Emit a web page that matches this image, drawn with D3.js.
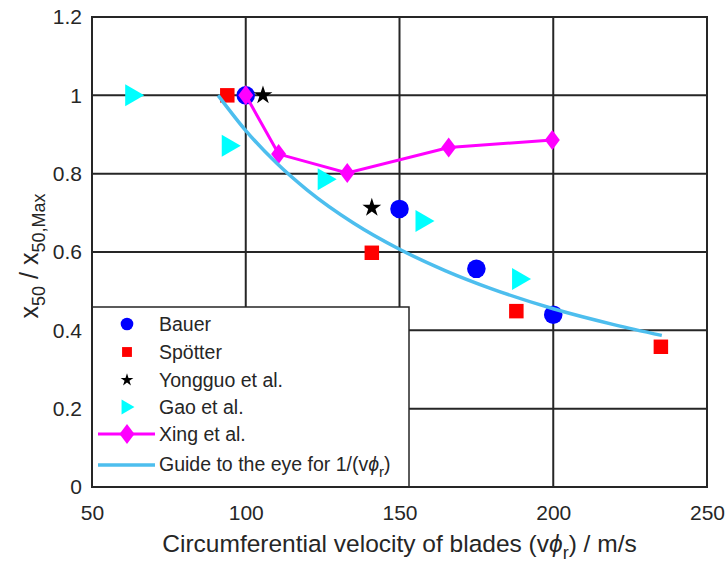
<!DOCTYPE html>
<html>
<head>
<meta charset="utf-8">
<script src="https://cdn.jsdelivr.net/npm/d3@7"></script>
<style>
  body { margin: 0; background: #fff; }
  svg text { font-family: "Liberation Sans", Arial, sans-serif; fill: #262626; }
</style>
</head>
<body>
<div id="chart"></div>
<script>
// data
var bauerX = [100, 150, 175, 200];
var bauerY = [1.0, 0.71, 0.557, 0.44];

var spotterX = [94, 141, 188, 235];
var spotterY = [1.0, 0.598, 0.449, 0.358];

var yongguoX = [105.6, 141];
var yongguoY = [1.0, 0.713];

var gaoX = [63.4, 94.8, 126, 157.8, 189.2];
var gaoY = [1.0, 0.871, 0.786, 0.679, 0.531];

var xingX = [100, 110.7, 133, 166, 199.7];
var xingY = [1.0, 0.85, 0.802, 0.867, 0.886];

var guideX = [91, 100, 110, 120, 135, 150, 165, 180, 200, 220, 235.3];
var guideY = [1.0, 0.91, 0.827, 0.758, 0.674, 0.607, 0.552, 0.506, 0.455, 0.414, 0.387];

var xTicks = [50, 100, 150, 200, 250];
var yTicks = [0, 0.2, 0.4, 0.6, 0.8, 1, 1.2];

var legendNames = ['Bauer', 'Spötter', 'Yongguo et al.', 'Gao et al.', 'Xing et al.'];

function zip(xs, ys) {
    return xs.map(function(x, i) { return {x: x, y: ys[i]}; });
}

var width = 725, height = 562;
var margin = {left: 92, right: 18, top: 17, bottom: 75};

var x = d3.scaleLinear().domain([50, 250]).range([margin.left, width - margin.right]);
var y = d3.scaleLinear().domain([0, 1.2]).range([height - margin.bottom, margin.top]);

var svg = d3.select('#chart').append('svg')
    .attr('width', width)
    .attr('height', height);

var axisColor = '#262626';

// grid
svg.append('g').selectAll('line')
    .data(xTicks).enter().append('line')
    .attr('x1', function(d) { return x(d); })
    .attr('x2', function(d) { return x(d); })
    .attr('y1', y(0)).attr('y2', y(1.2))
    .attr('stroke', axisColor).attr('stroke-width', 2);

svg.append('g').selectAll('line')
    .data(yTicks).enter().append('line')
    .attr('y1', function(d) { return y(d); })
    .attr('y2', function(d) { return y(d); })
    .attr('x1', x(50)).attr('x2', x(250))
    .attr('stroke', axisColor).attr('stroke-width', 2);

// tick labels
var xAxis = d3.axisBottom(x).tickValues(xTicks).tickSize(0).tickPadding(18)
    .tickFormat(d3.format('d'));
var yAxis = d3.axisLeft(y).tickValues(yTicks).tickSize(0).tickPadding(10)
    .tickFormat(function(d) { return d3.format('~g')(d); });

var gx = svg.append('g').attr('transform', 'translate(0,' + y(0) + ')').call(xAxis);
var gy = svg.append('g').attr('transform', 'translate(' + x(50) + ',0)').call(yAxis);
[gx, gy].forEach(function(g) {
    g.select('.domain').remove();
    g.selectAll('text').style('font-size', '21px').attr('fill', axisColor)
        .style('font-family', '"Liberation Sans", Arial, sans-serif');
});

// legend box (sits over the grid, under the data)
var lg = svg.append('g');
lg.append('rect')
    .attr('x', x(50)).attr('y', 307)
    .attr('width', 317).attr('height', y(0) - 307)
    .attr('fill', '#fff').attr('stroke', axisColor).attr('stroke-width', 1.5);

// plot box
svg.append('rect')
    .attr('x', x(50)).attr('y', y(1.2))
    .attr('width', x(250) - x(50)).attr('height', y(0) - y(1.2))
    .attr('fill', 'none').attr('stroke', axisColor).attr('stroke-width', 2);

// marker shapes, k scales them down for the legend
function circ(k) { return d3.symbol().type(d3.symbolCircle).size(270 * k * k)(); }
function sq(k) { return d3.symbol().type(d3.symbolSquare).size(210 * k * k)(); }
function star(k) { return d3.symbol().type(d3.symbolStar).size(110 * k * k)(); }
function tri(k) {
    return 'M' + (-8 * k) + ',' + (-11 * k) + 'L' + (11 * k) + ',0L' + (-8 * k) + ',' + (11 * k) + 'Z';
}
function diamond(k) {
    return 'M0,' + (-10 * k) + 'L' + (7.5 * k) + ',0L0,' + (10 * k) + 'L' + (-7.5 * k) + ',0Z';
}

function drawMarkers(data, shape, color) {
    svg.append('g').selectAll('path')
        .data(data).enter().append('path')
        .attr('d', shape(1))
        .attr('transform', function(d) { return 'translate(' + x(d.x) + ',' + y(d.y) + ')'; })
        .attr('fill', color);
}

drawMarkers(zip(bauerX, bauerY), circ, '#0000ff');
drawMarkers(zip(spotterX, spotterY), sq, '#ff0000');
drawMarkers(zip(yongguoX, yongguoY), star, '#000');
drawMarkers(zip(gaoX, gaoY), tri, '#00ffff');

var line = d3.line()
    .x(function(d) { return x(d.x); })
    .y(function(d) { return y(d.y); });

svg.append('path')
    .datum(zip(xingX, xingY))
    .attr('d', line)
    .attr('fill', 'none').attr('stroke', '#ff00ff').attr('stroke-width', 3);
drawMarkers(zip(xingX, xingY), diamond, '#ff00ff');

svg.append('path')
    .datum(zip(guideX, guideY))
    .attr('d', line.curve(d3.curveMonotoneX))
    .attr('fill', 'none').attr('stroke', '#4dbeee').attr('stroke-width', 3.5);

// legend entries
var rowY = [324, 352, 380, 407, 434, 465];
var mx = 127, tx = 159;
var shapes = [circ, sq, star, tri];
var colors = ['#0000ff', '#ff0000', '#000', '#00ffff'];

shapes.forEach(function(s, i) {
    lg.append('path').attr('d', s(0.68))
        .attr('transform', 'translate(' + mx + ',' + rowY[i] + ')')
        .attr('fill', colors[i]);
});
lg.append('line').attr('x1', 98).attr('x2', 155).attr('y1', rowY[4]).attr('y2', rowY[4])
    .attr('stroke', '#ff00ff').attr('stroke-width', 3);
lg.append('path').attr('d', diamond(1))
    .attr('transform', 'translate(' + mx + ',' + rowY[4] + ')')
    .attr('fill', '#ff00ff');
lg.append('line').attr('x1', 98).attr('x2', 155).attr('y1', rowY[5]).attr('y2', rowY[5])
    .attr('stroke', '#4dbeee').attr('stroke-width', 3.5);

legendNames.forEach(function(n, i) {
    lg.append('text').attr('x', tx).attr('y', rowY[i] + 7)
        .style('font-size', '19.5px').attr('fill', '#000').text(n);
});
var gt = lg.append('text').attr('x', tx).attr('y', rowY[5] + 6)
    .style('font-size', '19.5px').attr('fill', '#000');
gt.append('tspan').text('Guide to the eye for 1/(v');
gt.append('tspan').style('font-style', 'italic').text('\u03d5');
gt.append('tspan').attr('dy', 6).style('font-size', '15px').text('r');
gt.append('tspan').attr('dy', -6).text(')');

// axis labels
var xl = svg.append('text')
    .attr('x', (x(50) + x(250)) / 2).attr('y', 552)
    .attr('text-anchor', 'middle')
    .style('font-size', '24.5px');
xl.append('tspan').text('Circumferential velocity of blades (v');
xl.append('tspan').style('font-style', 'italic').text('\u03d5');
xl.append('tspan').attr('dy', 7).style('font-size', '18px').text('r');
xl.append('tspan').attr('dy', -7).text(') / m/s');

var yl = svg.append('text')
    .attr('transform', 'translate(38,256) rotate(-90)')
    .attr('text-anchor', 'middle')
    .style('font-size', '25px');
yl.append('tspan').text('x');
yl.append('tspan').attr('dy', 7).style('font-size', '18px').text('50');
yl.append('tspan').attr('dy', -7).text(' / x');
yl.append('tspan').attr('dy', 7).style('font-size', '18px').text('50,Max');
</script>
</body>
</html>
